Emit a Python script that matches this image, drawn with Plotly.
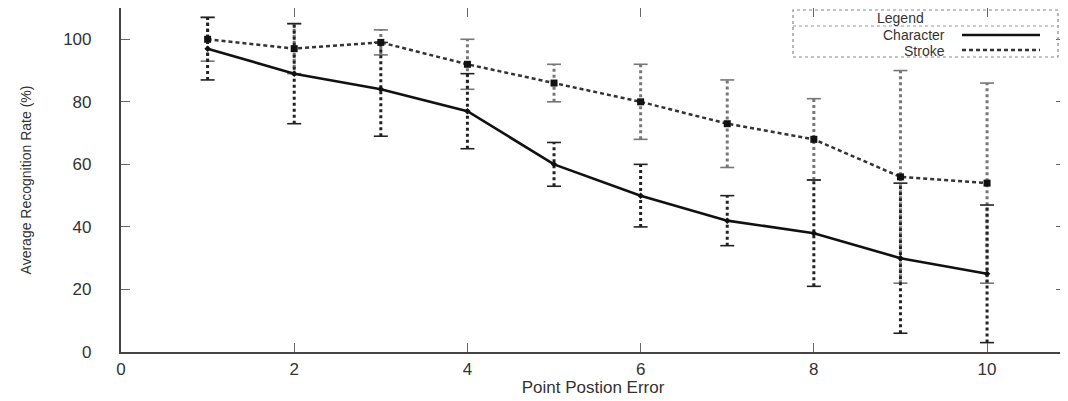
import plotly.graph_objects as go

# ---- data ----
x_err = [1, 2, 3, 4, 5, 6, 7, 8, 9, 10]
character = [97, 89, 84, 77, 60, 50, 42, 38, 30, 25]
character_err = [10, 16, 15, 12, 7, 10, 8, 17, 24, 22]
stroke = [100, 97, 99, 92, 86, 80, 73, 68, 56, 54]
stroke_err = [7, 8, 4, 8, 6, 12, 14, 13, 34, 32]
x_ticks = [0, 2, 4, 6, 8, 10]
y_ticks = [0, 20, 40, 60, 80, 100]

OFF = 8  # page body margin of the html page
W, H = 1068 - OFF, 401 - OFF
ML, MR, MT, MB = 121 - OFF, 3, 8 - OFF, 49
PW, PH = W - ML - MR, H - MT - MB

def px(x):
    return (x - OFF - ML) / PW

def py(y):
    return (MT + PH - (y - OFF)) / PH

FONT = "Liberation Sans, Arial, sans-serif"
TXT = "#333333"

fig = go.Figure()

def add_whiskers(xs, vals, errs, color, width):
    wx, wy = [], []
    for xv, v, e in zip(xs, vals, errs):
        wx += [xv, xv, None]
        wy += [v - e, v + e, None]
    fig.add_trace(go.Scatter(x=wx, y=wy, mode="lines", showlegend=False,
                             line=dict(color=color, width=width, dash="dot"),
                             hoverinfo="skip"))
    cx = list(xs) + list(xs)
    cy = [v - e for v, e in zip(vals, errs)] + [v + e for v, e in zip(vals, errs)]
    fig.add_trace(go.Scatter(x=cx, y=cy, mode="markers", showlegend=False,
                             marker=dict(symbol="line-ew", size=10,
                                         line=dict(color=color, width=1.6)),
                             hoverinfo="skip"))

add_whiskers(x_err, stroke, stroke_err, "#777777", 3)
add_whiskers(x_err, character, character_err, "#222222", 3)

fig.add_trace(go.Scatter(x=x_err, y=stroke, mode="lines+markers", name="Stroke",
                         line=dict(color="#333333", width=2.5, dash="4px,3px"),
                         marker=dict(symbol="square", size=7, color="#111111")))
fig.add_trace(go.Scatter(x=x_err, y=character, mode="lines+markers", name="Character",
                         line=dict(color="#111111", width=2.6),
                         marker=dict(symbol="diamond", size=5, color="#111111")))

# manual gnuplot-style key
shapes = [
    dict(type="rect", xref="paper", yref="paper", x0=px(793), x1=px(1058),
         y0=py(57), y1=py(10), line=dict(color="#888888", width=1.2, dash="dot")),
    dict(type="line", xref="paper", yref="paper", x0=px(793), x1=px(1058),
         y0=py(26), y1=py(26), line=dict(color="#999999", width=1.2, dash="dot")),
    dict(type="line", xref="paper", yref="paper", x0=px(962), x1=px(1040),
         y0=py(35), y1=py(35), line=dict(color="#111111", width=2.5)),
    dict(type="line", xref="paper", yref="paper", x0=px(962), x1=px(1040),
         y0=py(50), y1=py(50), line=dict(color="#333333", width=2.5, dash="4px,3px")),
]
key_font = dict(family=FONT, size=14, color=TXT)
annotations = [
    dict(text="Legend", xref="paper", yref="paper", x=px(900), y=py(18),
         xanchor="center", yanchor="middle", showarrow=False, borderpad=0,
         font=key_font),
    dict(text="Character", xref="paper", yref="paper", x=px(946), y=py(34.5),
         xanchor="right", yanchor="middle", showarrow=False, borderpad=0,
         font=key_font),
    dict(text="Stroke", xref="paper", yref="paper", x=px(946), y=py(51),
         xanchor="right", yanchor="middle", showarrow=False, borderpad=0,
         font=key_font),
]

axis_common = dict(showline=True, linewidth=2.2, linecolor="#444444", mirror="allticks",
                   ticks="inside", ticklen=9, tickwidth=1, tickcolor="#666666",
                   showgrid=False, zeroline=False,
                   tickfont=dict(family=FONT, size=17, color=TXT))

fig.update_layout(
    width=W, height=H,
    margin=dict(l=ML, r=MR, t=MT, b=MB, autoexpand=False),
    paper_bgcolor="white", plot_bgcolor="white",
    showlegend=False,
    shapes=shapes, annotations=annotations,
    xaxis=dict(range=[0, 10.9], tickvals=x_ticks, ticktext=[str(v) for v in x_ticks],
               title=dict(text="Point Postion Error", standoff=4,
                          font=dict(family=FONT, size=17, color=TXT)),
               ticklabelstandoff=0, **axis_common),
    yaxis=dict(range=[0, 110], tickvals=y_ticks, ticktext=[str(v) for v in y_ticks],
               title=dict(text="Average Recognition Rate (%)", standoff=28,
                          font=dict(family=FONT, size=14, color=TXT)),
               ticklabelstandoff=24, **axis_common),
)

fig.write_html("out.html")
